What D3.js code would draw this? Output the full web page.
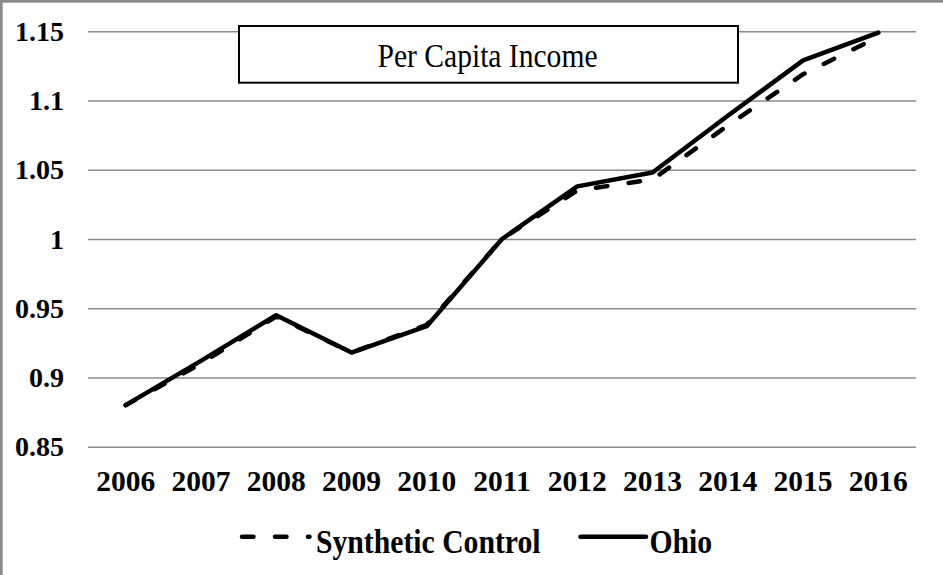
<!DOCTYPE html>
<html>
<head>
<meta charset="utf-8">
<script src="https://cdn.jsdelivr.net/npm/d3@7"></script>
</head>
<body style="margin:0">
<script>
// Per capita income index, Ohio vs. its synthetic control (2011 = 1)
const years = ["2006", "2007", "2008", "2009", "2010", "2011", "2012", "2013", "2014", "2015", "2016"];
const ohio = [0.880, 0.912, 0.945, 0.918, 0.937, 1.000, 1.038, 1.048, 1.089, 1.129, 1.149];
const synthetic = [0.880, 0.910, 0.944, 0.918, 0.938, 1.000, 1.035, 1.043, 1.082, 1.119, 1.146];
const yTicks = [0.85, 0.9, 0.95, 1, 1.05, 1.1, 1.15];
const yTickLabels = ["0.85", "0.9", "0.95", "1", "1.05", "1.1", "1.15"];
const seriesNames = ["Synthetic Control", "Ohio"];
const chartTitle = "Per Capita Income";

const FONT = '"Liberation Serif", "Times New Roman", serif';
const W = 943, H = 575;
const plot = { left: 88, right: 916, top: 31.3, bottom: 446.7 };

const svg = d3.select("body").append("svg")
  .attr("width", W).attr("height", H)
  .style("display", "block");

svg.append("rect").attr("width", W).attr("height", H).attr("fill", "#fff");

// frame (open on the right/bottom edges)
svg.append("rect")
  .attr("x", 1.35).attr("y", 1.35)
  .attr("width", W + 20).attr("height", H + 20)
  .attr("fill", "none").attr("stroke", "#8a8a8a").attr("stroke-width", 2.7);

const x = d3.scalePoint().domain(years).range([plot.left, plot.right]).padding(0.5);
const y = d3.scaleLinear().domain([0.85, 1.15]).range([plot.bottom, plot.top]);

// horizontal gridlines
const yAxis = d3.axisLeft(y)
  .tickValues(yTicks)
  .tickSize(-(plot.right - plot.left))
  .tickFormat("");
const gy = svg.append("g")
  .attr("transform", `translate(${plot.left},0)`)
  .call(yAxis);
gy.select(".domain").remove();
gy.selectAll(".tick line")
  .attr("stroke", "#8a8a8a").attr("stroke-width", 1.6);

// value labels
svg.selectAll("text.ylab")
  .data(yTicks)
  .join("text")
  .attr("class", "ylab")
  .attr("x", plot.left - 24)
  .attr("y", d => y(d) + 9.5)
  .attr("text-anchor", "end")
  .style("font-family", FONT)
  .style("font-size", "28px").style("font-weight", "bold")
  .text((d, i) => yTickLabels[i]);

// year labels
svg.selectAll("text.xlab")
  .data(years)
  .join("text")
  .attr("class", "xlab")
  .attr("x", d => x(d))
  .attr("y", plot.bottom + 44)
  .attr("text-anchor", "middle")
  .style("font-family", FONT)
  .style("font-size", "29.5px").style("font-weight", "bold")
  .text(d => d);

// title box
const tb = { x: 239, y: 26, w: 499, h: 56.7 };
svg.append("rect")
  .attr("x", tb.x).attr("y", tb.y).attr("width", tb.w).attr("height", tb.h)
  .attr("fill", "#fff").attr("stroke", "#000").attr("stroke-width", 2);
svg.append("text")
  .attr("transform", `translate(${tb.x + tb.w / 2 - 1},66.7) scale(0.87,1)`)
  .attr("text-anchor", "middle")
  .style("font-family", FONT)
  .style("font-size", "34px")
  .text(chartTitle);

// series lines
const line = d3.line()
  .x((d, i) => x(years[i]))
  .y(d => y(d));

svg.append("path")
  .datum(synthetic)
  .attr("d", line)
  .attr("fill", "none").attr("stroke", "#000")
  .attr("stroke-width", 4.5)
  .attr("stroke-linecap", "round").attr("stroke-linejoin", "round")
  .attr("stroke-dasharray", "11.5,21.5");

svg.append("path")
  .datum(ohio)
  .attr("d", line)
  .attr("fill", "none").attr("stroke", "#000")
  .attr("stroke-width", 4.5)
  .attr("stroke-linecap", "round").attr("stroke-linejoin", "round");

// legend
const legY = 536.7;
svg.append("line")
  .attr("x1", 242).attr("x2", 309.5).attr("y1", legY).attr("y2", legY)
  .attr("stroke", "#000").attr("stroke-width", 4.5)
  .attr("stroke-linecap", "round")
  .attr("stroke-dasharray", "11.5,21.5");
svg.append("text")
  .attr("transform", `translate(316,552.5) scale(0.9,1)`)
  .style("font-family", FONT)
  .style("font-size", "33px").style("font-weight", "bold")
  .text(seriesNames[0]);

svg.append("line")
  .attr("x1", 580.5).attr("x2", 646).attr("y1", legY).attr("y2", legY)
  .attr("stroke", "#000").attr("stroke-width", 4.5)
  .attr("stroke-linecap", "round");
svg.append("text")
  .attr("transform", `translate(649.5,552.5) scale(0.9,1)`)
  .style("font-family", FONT)
  .style("font-size", "33px").style("font-weight", "bold")
  .text(seriesNames[1]);
</script>
</body>
</html>
